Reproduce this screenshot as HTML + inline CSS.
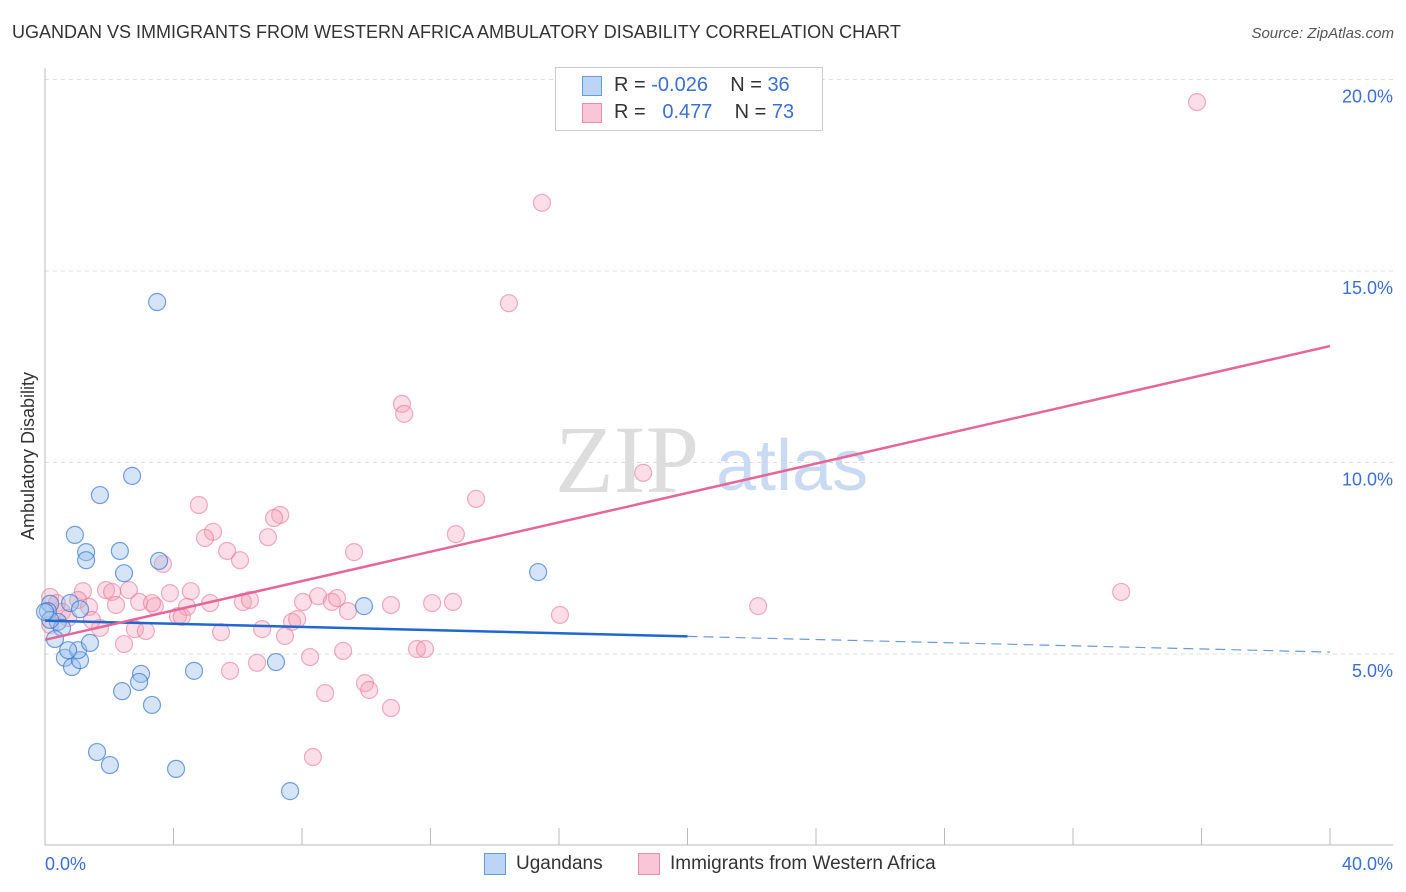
<!DOCTYPE html>
<html><head><meta charset="utf-8"><style>
body{margin:0;background:#fff;font-family:"Liberation Sans",sans-serif}
#wrap{position:relative;width:1406px;height:892px}
.t{position:absolute;white-space:nowrap}
</style></head><body>
<div id="wrap">
<div class="t" style="left:12px;top:22px;font-size:18px;color:#333">UGANDAN VS IMMIGRANTS FROM WESTERN AFRICA AMBULATORY DISABILITY CORRELATION CHART</div>
<div class="t" style="right:12px;top:25px;font-size:15px;color:#555;font-style:italic">Source: ZipAtlas.com</div>
<svg id="svg" width="1406" height="892" style="position:absolute;left:0;top:0"></svg>
</div>
<script>
const blueX=[3.49,2.71,1.71,0.93,1.28,1.28,2.33,2.46,3.55,9.93,15.35,0.78,1.09,0.16,0.09,0.40,0.53,0.31,0.62,0.84,1.09,1.03,0.72,1.40,2.99,2.93,2.40,3.33,4.64,7.19,1.62,2.02,4.08,7.63,0.16,0];
const blueY=[14.19,9.65,9.15,8.11,7.66,7.45,7.69,7.11,7.43,6.25,7.14,6.33,6.17,6.31,6.12,5.84,5.68,5.39,4.90,4.66,4.84,5.10,5.10,5.29,4.48,4.27,4.03,3.67,4.56,4.79,2.44,2.10,2.00,1.42,5.89,6.10];
const pinkX=[35.86,15.47,14.44,11.11,11.18,18.62,13.42,4.79,7.32,7.13,5.23,4.98,6.94,12.79,5.67,9.62,6.07,3.67,1.18,1.90,2.61,3.89,4.54,2.09,0.16,0.37,1.03,1.37,2.21,2.93,3.42,3.33,4.42,5.14,6.16,6.38,8.03,8.50,8.93,9.09,9.43,10.77,12.05,12.70,16.03,22.20,33.50,1.71,2.80,3.14,4.14,4.26,5.48,6.76,7.69,7.85,7.47,8.25,9.28,11.58,11.83,2.46,5.76,6.60,8.72,9.96,10.09,10.77,8.34,0.16,0.53,1.46,0.72];
const pinkY=[19.41,16.78,14.16,11.53,11.27,9.73,9.05,8.89,8.63,8.55,8.19,8.03,8.05,8.13,7.69,7.66,7.45,7.35,6.64,6.67,6.67,6.59,6.64,6.62,6.49,6.33,6.41,6.23,6.28,6.36,6.25,6.33,6.23,6.33,6.36,6.41,6.36,6.51,6.36,6.46,6.12,6.28,6.33,6.36,6.02,6.25,6.62,5.68,5.65,5.60,5.99,5.97,5.57,5.65,5.84,5.91,5.47,4.92,5.08,5.13,5.13,5.26,4.56,4.77,3.98,4.24,4.06,3.59,2.31,5.76,6.10,5.89,5.94];
const yTicks=[5,10,15,20];
const xTickLabels=["0.0%","40.0%"];
const blueTrend=[5.87,5.05];
const pinkTrend=[5.37,13.04];
const X=v=>45+v/40*1285, Y=v=>654-(v-5)*38.3;
const svg=document.getElementById('svg'),NS='http://www.w3.org/2000/svg';
function mk(t,a){const e=document.createElementNS(NS,t);for(const k in a)e.setAttribute(k,a[k]);svg.appendChild(e);return e;}
let e;
yTicks.forEach(v=>{
 e=mk('line',{x1:45,x2:1393,y1:Y(v),y2:Y(v),stroke:'#ddd','stroke-dasharray':'4,4'});
 
 
 e=mk('text',{x:1393,y:Y(v)+23,'text-anchor':'end','font-size':18,fill:'#3b6fd4','font-family':'Liberation Sans'});
 e.textContent=v.toFixed(1)+'%';
 
 
});
e=mk('line',{x1:45,x2:45,y1:68,y2:845,stroke:'#bbb'});


e=mk('line',{x1:45,x2:1393,y1:845,y2:845,stroke:'#bbb'});


for(let i=0;i<=10;i++){e=mk('line',{x1:X(i*4),x2:X(i*4),y1:828,y2:845,stroke:'#bbb'});
 
 }
[[0,'start',45],[40,'end',1393]].forEach((d,i)=>{e=mk('text',{x:d[2],y:870,'text-anchor':d[1],'font-size':18,fill:'#3b6fd4','font-family':'Liberation Sans'});e.textContent=xTickLabels[i];
 
 });
e=mk('text',{x:34,y:456,transform:'rotate(-90 34 456)','text-anchor':'middle','font-size':18,fill:'#333','font-family':'Liberation Sans'});e.textContent='Ambulatory Disability';


e=mk('text',{x:555,y:492,'font-size':96,fill:'#ddd','font-family':'Liberation Serif'});e.textContent='ZIP';


e=mk('text',{x:716,y:490,'font-size':72,fill:'#c9daf2','font-family':'Liberation Sans'});e.textContent='atlas';


pinkX.forEach((x,i)=>{e=mk('circle',{cx:X(x),cy:Y(pinkY[i]),r:8.5,fill:'rgba(244,160,185,0.35)',stroke:'rgba(232,120,155,0.6)','stroke-width':1.2});
 
 });
blueX.forEach((x,i)=>{e=mk('circle',{cx:X(x),cy:Y(blueY[i]),r:8.5,fill:'rgba(150,190,235,0.4)',stroke:'rgba(60,120,210,0.7)','stroke-width':1.2});
 
 });
const bAt=x=>blueTrend[0]+(blueTrend[1]-blueTrend[0])*x/40;
e=mk('line',{x1:X(0),y1:Y(bAt(0)),x2:X(20),y2:Y(bAt(20)),stroke:'#2068d0','stroke-width':2.5});


e=mk('line',{x1:X(20),y1:Y(bAt(20)),x2:X(40),y2:Y(bAt(40)),stroke:'#6a9ad8','stroke-width':1.2,'stroke-dasharray':'10,6'});


e=mk('line',{x1:X(0),y1:Y(pinkTrend[0]),x2:X(40),y2:Y(pinkTrend[1]),stroke:'#e5679a','stroke-width':2.5});


</script>
<div class="t" style="left:555px;top:67px;width:266px;height:62px;border:1px solid #ccc;background:#fff;font-size:20px">
 <div style="position:absolute;left:26px;top:8px;width:18px;height:18px;background:#bcd5f5;border:1px solid #6a9ad8"></div>
 <div style="position:absolute;left:58px;top:6px;color:#333">R = <span style="color:#3b6fd4">-0.026</span>&nbsp;&nbsp;&nbsp; N = <span style="color:#3b6fd4">36</span></div>
 <div style="position:absolute;left:26px;top:35px;width:18px;height:18px;background:#f8c6d6;border:1px solid #e88aaa"></div>
 <div style="position:absolute;left:58px;top:33px;color:#333">R = &nbsp;&nbsp;<span style="color:#3b6fd4">0.477</span>&nbsp;&nbsp;&nbsp; N = <span style="color:#3b6fd4">73</span></div>
</div>
<div class="t" style="left:484px;top:853px;width:20px;height:20px;background:#bcd5f5;border:1px solid #6a9ad8"></div>
<div class="t" style="left:516px;top:853px;font-size:19px;color:#333">Ugandans</div>
<div class="t" style="left:638px;top:853px;width:20px;height:20px;background:#f8c6d6;border:1px solid #e88aaa"></div>
<div class="t" style="left:670px;top:853px;font-size:19px;color:#333">Immigrants from Western Africa</div>
</body></html>
